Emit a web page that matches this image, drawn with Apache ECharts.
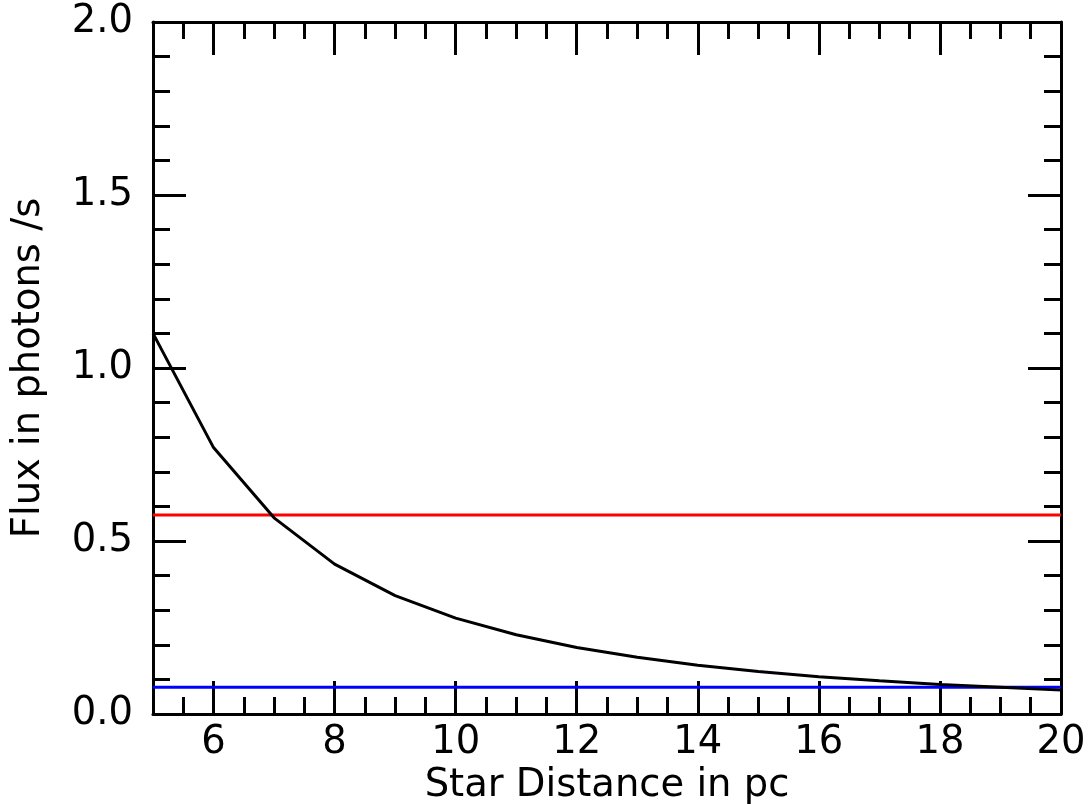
<!DOCTYPE html>
<html>
<head>
<meta charset="utf-8">
<script src="https://cdn.jsdelivr.net/npm/echarts@6/dist/echarts.min.js"></script>
<style>html,body{margin:0;padding:0;background:#fff;}#c{width:1089px;height:804px;}</style>
</head>
<body>
<div id="c"></div>
<script>
const distances = [5,6,7,8,9,10,11,12,13,14,15,16,17,18,19,20];
const flux = [1.10,0.77,0.567,0.433,0.342,0.277,0.229,0.192,0.164,0.141,0.123,0.108,0.096,0.085,0.077,0.069];
const redLevel = 0.575;
const blueLevel = 0.077;
const xMajorTicks = [6,8,10,12,14,16,18,20];
const xMinorTicks = [5.5,6.5,7,7.5,8.5,9,9.5,10.5,11,11.5,12.5,13,13.5,14.5,15,15.5,16.5,17,17.5,18.5,19,19.5];
const yMajorTicks = [0,0.5,1.0,1.5,2.0];
const yMinorTicks = [0.1,0.2,0.3,0.4,0.6,0.7,0.8,0.9,1.1,1.2,1.3,1.4,1.6,1.7,1.8,1.9];

const FONT = 'DejaVu Sans';
const FS = 38.5;
const lineStyle = {color:'#000', width:3};
function xAx(pos, ticks, len, labels, showLine){
  return {
    type:'value', min:5, max:20, interval:0.5, position:pos,
    axisLine:{show:showLine, onZero:false, lineStyle},
    axisTick:{show:true, inside:true, length:len, customValues:ticks, lineStyle:{color:'#000',width:3}},
    axisLabel:labels ? {show:true, customValues:xMajorTicks, color:'#000', fontFamily:FONT, fontSize:FS, margin:9} : {show:false},
    splitLine:{show:false},
    name: labels ? 'Star Distance in pc' : '',
    nameLocation:'middle', nameGap:43,
    nameTextStyle:{color:'#000', fontFamily:FONT, fontSize:FS}
  };
}
function yAx(pos, ticks, len, labels, showLine){
  return {
    type:'value', min:0, max:2, interval:0.1, position:pos,
    axisLine:{show:showLine, onZero:false, lineStyle},
    axisTick:{show:true, inside:true, length:len, customValues:ticks, lineStyle:{color:'#000',width:3}},
    axisLabel:labels ? {show:true, customValues:yMajorTicks, color:'#000', fontFamily:FONT, fontSize:FS, margin:20, formatter:v=>v.toFixed(1)} : {show:false},
    splitLine:{show:false},
    name: labels ? 'Flux in photons /s' : '',
    nameLocation:'middle', nameGap:105,
    nameTextStyle:{color:'#000', fontFamily:FONT, fontSize:FS}
  };
}
const chart = echarts.init(document.getElementById('c'), null, {renderer:'canvas'});
chart.setOption({
  animation:false,
  backgroundColor:'#fff',
  grid:{left:153, right:28, top:22, bottom:90, outerBoundsMode:'none'},
  xAxis:[
    xAx('bottom', xMajorTicks, 33, true, true),
    xAx('bottom', xMinorTicks, 17, false, false),
    xAx('top', xMajorTicks, 33, false, true),
    xAx('top', xMinorTicks, 17, false, false)
  ],
  yAxis:[
    yAx('left', yMajorTicks, 33, true, true),
    yAx('left', yMinorTicks, 17, false, false),
    yAx('right', yMajorTicks, 33, false, true),
    yAx('right', yMinorTicks, 17, false, false)
  ],
  series:[
    {type:'line', data:[[5,redLevel],[20,redLevel]], showSymbol:false, lineStyle:{color:'#ff0000', width:3}, z:3},
    {type:'line', data:[[5,blueLevel],[20,blueLevel]], showSymbol:false, lineStyle:{color:'#0000ff', width:3}, z:3},
    {type:'line', data:distances.map((d,i)=>[d,flux[i]]), showSymbol:false, lineStyle:{color:'#000', width:3}, z:4}
  ]
});
</script>
</body>
</html>
